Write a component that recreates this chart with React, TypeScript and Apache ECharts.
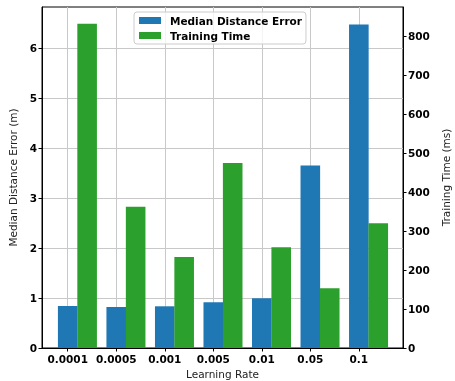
import React, { useEffect, useRef } from "react";
import * as echarts from "echarts";

const categories = ["0.0001", "0.0005", "0.001", "0.005", "0.01", "0.05", "0.1"];
const medianError = [0.84, 0.82, 0.834, 0.914, 0.994, 3.65, 6.47];
const trainingTime = [831, 362, 233, 474, 258, 153, 320];
const leftTicks = [0, 1, 2, 3, 4, 5, 6];
const rightTicks = [0, 100, 200, 300, 400, 500, 600, 700, 800];

const FONT = "DejaVu Sans";

export default function App() {
  const ref = useRef<HTMLDivElement>(null);
  useEffect(() => {
    document.body.style.margin = "0";
    document.body.style.overflow = "hidden";
    const chart = echarts.init(ref.current!, null, { renderer: "svg" });
    const idx = categories.map((_, i) => i);
    chart.setOption({
      animation: false,
      textStyle: { fontFamily: FONT },
      grid: {
        left: 42,
        right: 52,
        top: 7,
        bottom: 33,
        containLabel: false,
        outerBoundsMode: "none",
        show: true,
        borderColor: "#000",
        borderWidth: 1,
        backgroundColor: "transparent",
      },
      legend: {
        orient: "vertical",
        left: 134,
        top: 12,
        itemWidth: 22,
        itemHeight: 7,
        itemGap: 4,
        padding: [3, 4, 3, 5],
        borderColor: "#cccccc",
        borderWidth: 1,
        borderRadius: 3,
        backgroundColor: "rgba(255,255,255,0.8)",
        icon: "rect",
        textStyle: {
          fontFamily: FONT,
          fontWeight: "bold",
          fontSize: 10.5,
          color: "#000",
          padding: [0, 0, 0, 4],
        },
        data: ["Median Distance Error", "Training Time"],
      },
      xAxis: {
        type: "value",
        min: -0.53,
        max: 6.91,
        name: "Learning Rate",
        nameLocation: "middle",
        nameGap: 16,
        nameTextStyle: { fontFamily: FONT, fontSize: 10.5, color: "#222" },
        axisLine: { show: true, onZero: false, lineStyle: { color: "#000" } },
        axisTick: {
          show: true,
          length: 3.5,
          lineStyle: { color: "#000" },
          customValues: idx,
        },
        axisLabel: {
          customValues: idx,
          formatter: (v: number) => categories[Math.round(v)] ?? "",
          fontFamily: FONT,
          fontWeight: "bold",
          fontSize: 10.5,
          color: "#000",
          margin: 5,
        },
        splitLine: { show: true, lineStyle: { color: "#c8c8c8", width: 1 } },
      },
      yAxis: [
        {
          type: "value",
          position: "left",
          min: 0,
          max: 6.82,
          interval: 1,
          name: "Median Distance Error (m)",
          nameLocation: "middle",
          nameGap: 15,
          nameTextStyle: { fontFamily: FONT, fontSize: 10.5, color: "#222" },
          axisLine: { show: true, onZero: false, lineStyle: { color: "#000" } },
          axisTick: {
            show: true,
            length: 3.5,
            lineStyle: { color: "#000" },
            customValues: leftTicks,
          },
          axisLabel: {
            customValues: leftTicks,
            fontFamily: FONT,
            fontWeight: "bold",
            fontSize: 10.5,
            color: "#000",
            margin: 5,
          },
          splitLine: { show: true, lineStyle: { color: "#c8c8c8", width: 1 } },
        },
        {
          type: "value",
          position: "right",
          min: 0,
          max: 874,
          interval: 100,
          name: "Training Time (ms)",
          nameLocation: "middle",
          nameGap: 30,
          nameTextStyle: { fontFamily: FONT, fontSize: 10.5, color: "#222" },
          axisLine: { show: true, onZero: false, lineStyle: { color: "#000" } },
          axisTick: {
            show: true,
            length: 3.5,
            lineStyle: { color: "#000" },
            customValues: rightTicks,
          },
          axisLabel: {
            customValues: rightTicks,
            fontFamily: FONT,
            fontWeight: "bold",
            fontSize: 10.5,
            color: "#000",
            margin: 5,
          },
          splitLine: { show: false },
        },
      ],
      series: [
        {
          name: "Median Distance Error",
          type: "bar",
          yAxisIndex: 0,
          barWidth: 19.6,
          barGap: "-100%",
          itemStyle: { color: "#1f77b4" },
          data: medianError.map((v, i) => [i, v]),
        },
        {
          name: "Training Time",
          type: "bar",
          yAxisIndex: 1,
          barWidth: 19.6,
          barGap: "-100%",
          itemStyle: { color: "#2ca02c" },
          data: trainingTime.map((v, i) => [i + 0.4, v]),
        },
      ],
    });
    return () => chart.dispose();
  }, []);
  return (
    <div
      ref={ref}
      style={{ position: "fixed", left: 0, top: 0, width: 455, height: 381 }}
    />
  );
}
